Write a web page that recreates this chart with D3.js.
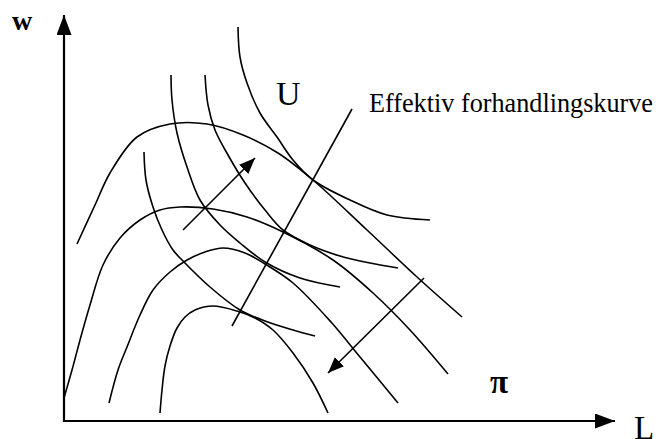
<!DOCTYPE html>
<html><head><meta charset="utf-8">
<script src="https://cdn.jsdelivr.net/npm/d3@7"></script>
<style>html,body{margin:0;padding:0;background:#fff;}svg{display:block;}</style>
</head><body>
<svg id="c" width="658" height="439"></svg>
<script>
// Axis extents (abstract units)
const axisMax = { L: 55.1, w: 40.6 };

// Indifference curves (union utility), U1 = highest
const U1 = [[17.4,39.4],[17.6,36.4],[18.3,33.8],[19.6,30.8],[21.3,28.4],[22.9,26.1],[24.9,24.1],[28.6,22.1],[32.3,20.6],[36.6,20.1]];
const U2 = [[14.1,34.6],[14.4,31.6],[15.1,29.1],[16.4,26.6],[18.1,23.8],[20.1,21.1],[21.9,19.1],[24.6,17.6],[27.6,16.5],[30.6,15.8],[33.4,15.3]];
const U3 = [[10.7,34.6],[10.8,32.1],[11.3,28.8],[12.3,25.4],[13.6,22.1],[15.6,19.6],[17.6,17.8],[20.1,15.9],[23.6,14.3],[27.6,13.4]];
const U4 = [[8.0,26.9],[8.2,24.1],[8.9,21.4],[9.8,19.1],[10.9,17.1],[11.9,16.0],[14.6,13.4],[17.6,11.1],[20.1,10.0],[22.9,9.1],[25.1,8.5]];

// Isoprofit curves, P1 = highest wage (lowest profit)
const P1 = [[1.3,17.7],[3.1,21.6],[4.6,24.8],[7.3,28.4],[10.6,29.7],[14.3,29.7],[17.9,28.6],[21.4,26.8],[24.9,24.1],[30.3,19.1],[35.3,14.4],[39.8,10.4]];
const P2 = [[0.0,2.3],[0.8,5.1],[1.6,8.1],[2.6,11.6],[3.9,15.6],[5.6,18.3],[7.6,20.1],[9.6,21.1],[11.6,21.4],[14.9,21.2],[18.3,20.4],[21.9,18.9],[26.9,16.1],[30.9,12.8],[34.6,9.1],[38.4,4.7]];
const P3 = [[4.5,1.8],[5.4,5.1],[6.3,7.4],[7.6,10.6],[8.9,13.1],[10.6,14.9],[12.3,16.1],[14.1,16.9],[15.9,17.3],[18.1,16.8],[20.1,15.7],[22.9,13.8],[26.7,9.9],[29.6,6.4],[33.4,1.8]];
const P4 = [[9.6,0.8],[9.8,3.1],[10.1,5.5],[10.6,7.5],[11.3,9.3],[12.1,10.4],[13.1,11.1],[14.9,11.5],[17.3,11.0],[19.1,10.3],[20.9,9.1],[22.9,6.8],[24.9,3.8],[26.4,0.8]];

// Efficient bargaining (contract) curve
const contract = [[16.8,9.5],[28.8,31.2]];
// Direction arrows: higher utility (up-right), higher profit (down-left)
const arrowUp = [[11.9,19.1],[19.1,26.3]];
const arrowDown = [[36.0,14.3],[26.4,4.8]];

const labels = { y: "w", x: "L", U: "U", pi: "π", contract: "Effektiv forhandlingskurve" };

const svg = d3.select("#c");
const x = d3.scaleLinear().domain([0, 55]).range([64, 614]);
const y = d3.scaleLinear().domain([0, 40.5]).range([421, 16]);

const defs = svg.append("defs");
function marker(id, len, half) {
  defs.append("marker").attr("id", id)
    .attr("viewBox", `0 ${-half} ${len} ${2*half}`)
    .attr("refX", len).attr("refY", 0)
    .attr("markerWidth", len).attr("markerHeight", 2*half)
    .attr("markerUnits", "userSpaceOnUse")
    .attr("orient", "auto")
    .append("path").attr("d", `M0,${-half}L${len},0L0,${half}Z`).attr("fill", "#000");
}
marker("axisHead", 20, 7.5);
marker("smallHead", 16, 6.5);

// axes
svg.append("line").attr("x1", x(0)).attr("y1", y(0)).attr("x2", x(0)).attr("y2", y(axisMax.w))
  .attr("stroke", "#000").attr("stroke-width", 2.2).attr("marker-end", "url(#axisHead)");
svg.append("line").attr("x1", x(0) - 1.1).attr("y1", y(0)).attr("x2", x(axisMax.L)).attr("y2", y(0))
  .attr("stroke", "#000").attr("stroke-width", 2.2).attr("marker-end", "url(#axisHead)");

const curve = d3.line().x(d => x(d[0])).y(d => y(d[1])).curve(d3.curveCatmullRom.alpha(0.5));
const straight = d3.line().x(d => x(d[0])).y(d => y(d[1]));

svg.append("g").selectAll("path").data([U1, U2, U3, U4, P1, P2, P3, P4]).join("path")
  .attr("d", curve).attr("fill", "none").attr("stroke", "#000").attr("stroke-width", 1.6);

svg.append("path").attr("d", straight(contract)).attr("fill", "none").attr("stroke", "#000").attr("stroke-width", 1.6);
svg.append("g").selectAll("path").data([arrowUp, arrowDown]).join("path")
  .attr("d", straight).attr("fill", "none").attr("stroke", "#000").attr("stroke-width", 1.6)
  .attr("marker-end", "url(#smallHead)");

const font = "'Liberation Serif', 'Times New Roman', serif";
svg.append("text").attr("x", 12).attr("y", 30).attr("font-family", font).attr("font-size", 28)
  .attr("font-weight", "bold").text(labels.y);
svg.append("text").attr("x", 634).attr("y", 439).attr("font-family", font).attr("font-size", 33).text(labels.x);
svg.append("text").attr("x", 276).attr("y", 105).attr("font-family", font).attr("font-size", 34).text(labels.U);
svg.append("text").attr("x", 490).attr("y", 393).attr("font-family", font).attr("font-size", 33)
  .attr("font-weight", "bold").text(labels.pi);
svg.append("text").attr("x", 369).attr("y", 112).attr("font-family", font).attr("font-size", 27)
  .attr("textLength", 284).attr("lengthAdjust", "spacingAndGlyphs").text(labels.contract);
</script>
</body></html>
